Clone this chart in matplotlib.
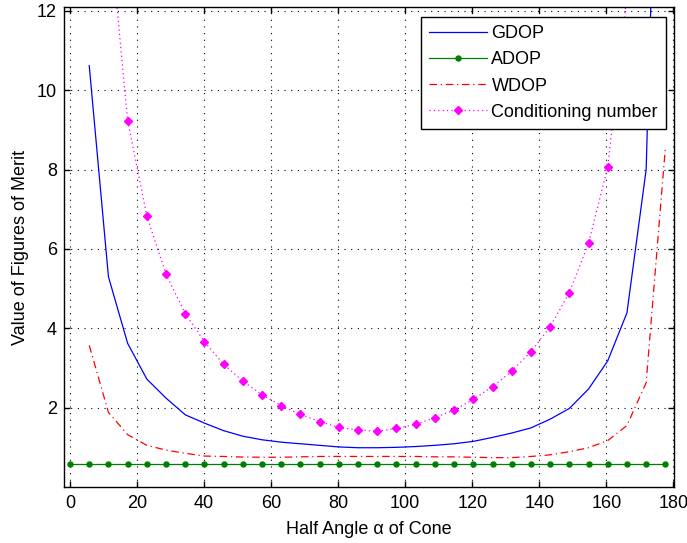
import numpy as np
import matplotlib
matplotlib.use("Agg")
import matplotlib.pyplot as plt

nan = np.nan
alpha_deg = [0.00, 5.73, 11.46, 17.19, 22.92, 28.65, 34.38, 40.11, 45.84, 51.57,
             57.30, 63.03, 68.75, 74.48, 80.21, 85.94, 91.67, 97.40, 103.13, 108.86,
             114.59, 120.32, 126.05, 131.78, 137.51, 143.24, 148.97, 154.70, 160.43,
             166.16, 171.89, 177.62]

gdop = [nan, 10.62, 5.30, 3.62, 2.72, 2.24, 1.82, 1.61, 1.42, 1.28,
        1.19, 1.13, 1.09, 1.05, 1.01, 0.99, 0.99, 1.00, 1.02, 1.05,
        1.09, 1.15, 1.25, 1.36, 1.49, 1.71, 1.98, 2.47, 3.18,
        4.39, 8.00, 25.0]

adop = [0.58, 0.58, 0.58, 0.58, 0.58, 0.58, 0.58, 0.58, 0.58, 0.58,
        0.58, 0.58, 0.58, 0.58, 0.58, 0.58, 0.58, 0.58, 0.58, 0.58,
        0.58, 0.58, 0.58, 0.58, 0.58, 0.58, 0.58, 0.58, 0.58,
        0.58, 0.58, 0.58]

wdop = [nan, 3.57, 1.88, 1.32, 1.05, 0.93, 0.85, 0.78, 0.77, 0.755,
        0.75, 0.75, 0.76, 0.77, 0.77, 0.77, 0.77, 0.77, 0.77, 0.76,
        0.76, 0.75, 0.74, 0.74, 0.77, 0.81, 0.89, 0.99, 1.17,
        1.55, 2.63, 8.55]

cond = [nan, 30.0, 14.4, 9.23, 6.83, 5.36, 4.37, 3.66, 3.09, 2.67,
        2.32, 2.05, 1.83, 1.65, 1.50, 1.44, 1.40, 1.48, 1.58, 1.75,
        1.94, 2.21, 2.53, 2.92, 3.41, 4.04, 4.90, 6.14, 8.07,
        12.4, 25.0, 60.0]

labels = ["GDOP", "ADOP", "WDOP", "Conditioning number"]
xticks = [0, 20, 40, 60, 80, 100, 120, 140, 160, 180]
yticks = [2, 4, 6, 8, 10, 12]

plt.rcParams['font.family'] = ['Liberation Sans', 'DejaVu Sans']
fs = 13

fig = plt.figure(figsize=(6.87, 5.43), dpi=100)
ax = fig.add_axes([64/687, 56/543, 610/687, 480/543])

ax.plot(alpha_deg, gdop, color=(0, 0, 1), lw=0.9, label=labels[0])
ax.plot(alpha_deg, adop, color=(0, 0.5, 0), lw=0.9, marker='o', ms=3.6,
        label=labels[1])
ax.plot(alpha_deg, wdop, color=(1, 0, 0), lw=0.9, linestyle=(0, (6, 3, 1, 3)),
        label=labels[2])
ax.plot(alpha_deg, cond, color=(1, 0, 1), lw=0.9, linestyle=(0, (1, 2.5)),
        marker='D', ms=4.5, label=labels[3])

ax.set_xlim(-1.8, 180.2)
ax.set_ylim(0, 12.1)
ax.set_xticks(xticks)
ax.set_yticks(yticks)
ax.grid(True, color='black', linestyle=(0, (1, 5)), linewidth=0.8)
ax.tick_params(direction='in', top=True, right=True, length=4, width=1,
               labelsize=fs)
ax.tick_params(axis='x', pad=6)
ax.tick_params(axis='y', pad=5)
for s in ax.spines.values():
    s.set_linewidth(1.0)

ax.set_xlabel("Half Angle α of Cone", fontsize=fs, labelpad=6)
ax.set_ylabel("Value of Figures of Merit", fontsize=fs, labelpad=6)

leg = ax.legend(loc='upper right', bbox_to_anchor=(0.987, 0.9785),
                borderaxespad=0, fancybox=False, framealpha=1,
                edgecolor='black', handlelength=3.2, handletextpad=0.25,
                labelspacing=0.5, borderpad=0.45, numpoints=1, fontsize=fs)
leg.get_frame().set_linewidth(1.0)

fig.savefig("out.png", dpi=100)
